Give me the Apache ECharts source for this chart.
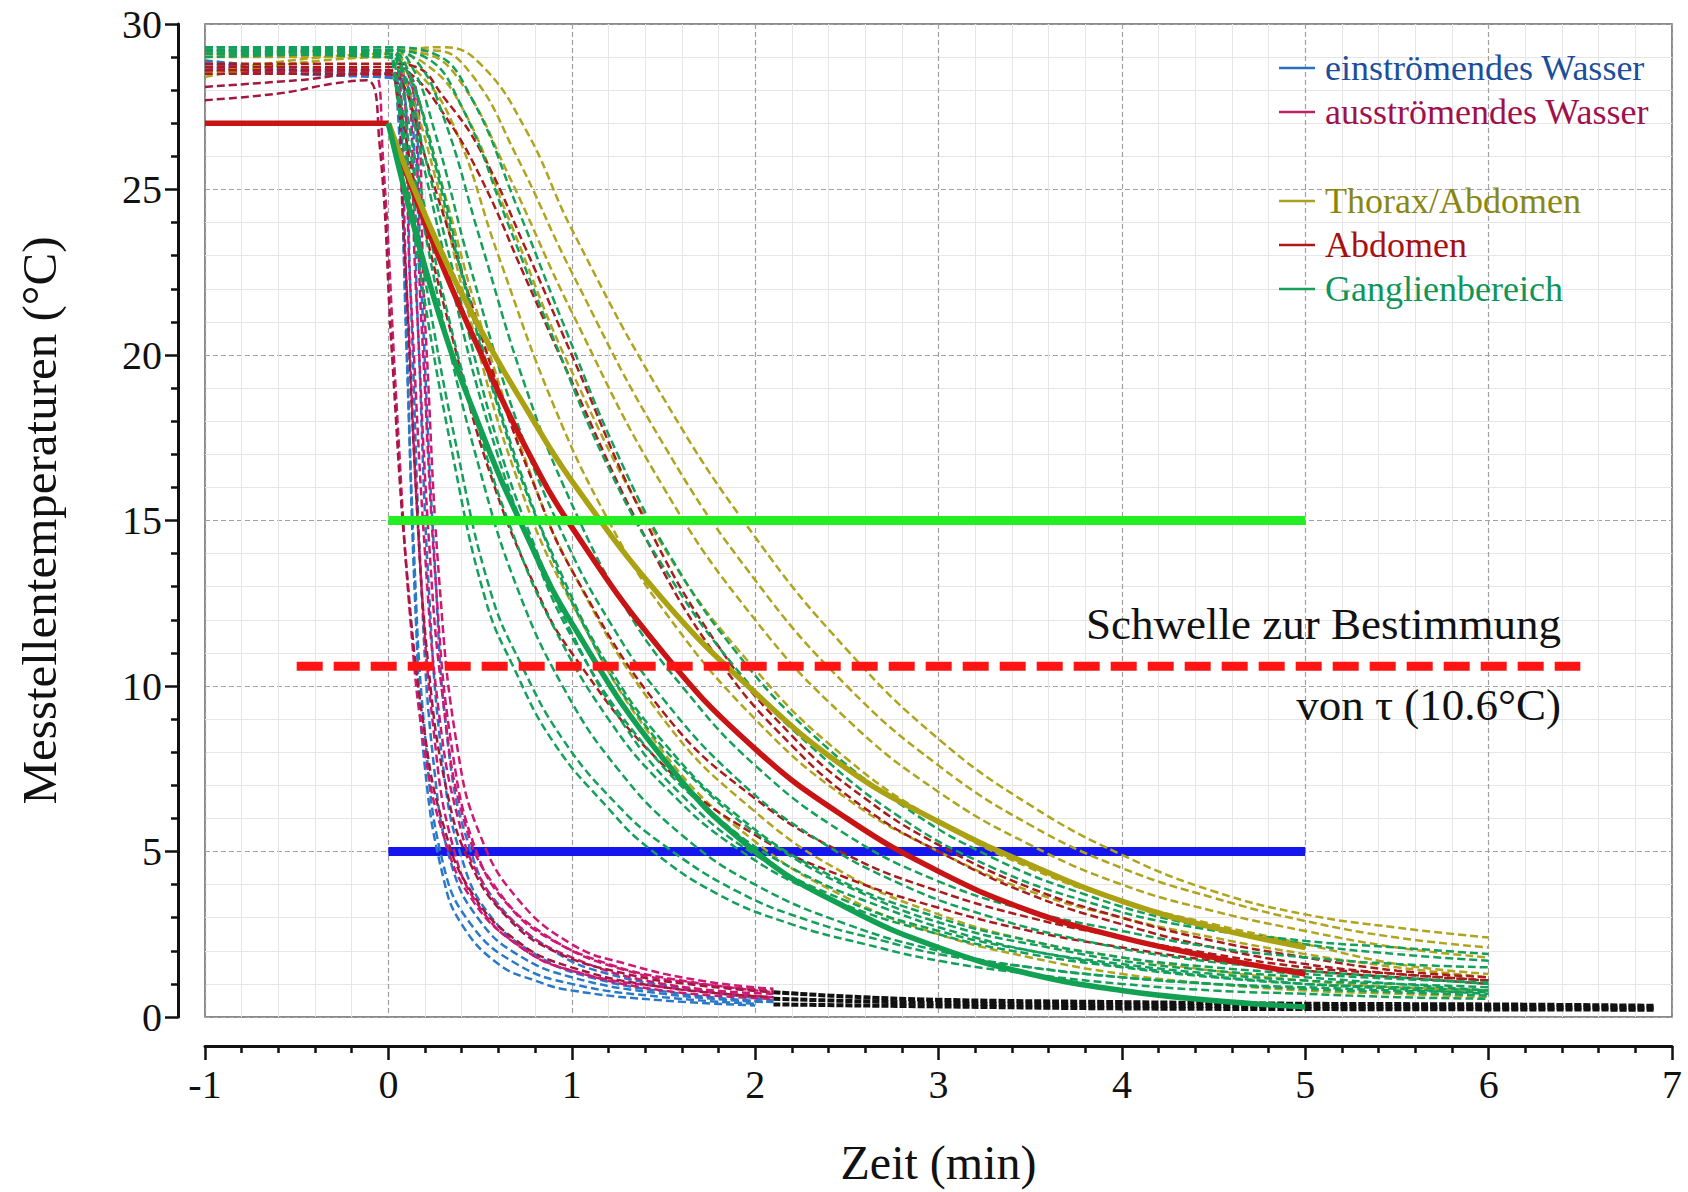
<!DOCTYPE html>
<html>
<head>
<meta charset="utf-8">
<script src="https://cdn.jsdelivr.net/npm/echarts@6/dist/echarts.min.js"></script>
<style>html,body{margin:0;padding:0;background:#fff}#c{width:1688px;height:1192px}</style>
</head>
<body>
<div id="c"></div>
<script>
// ---------- data (time in min, temperature in °C) ----------
const xTicks = [-1, 0, 1, 2, 3, 4, 5, 6, 7];
const yTicks = [0, 5, 10, 15, 20, 25, 30];

const inflow = [ // einströmendes Wasser
  [[-1,28.9],[-0.6,28.7],[0,28.5],[0.05,27.5],[0.1,20],[0.15,12],[0.2,7.5],[0.3,4.2],[0.4,2.8],[0.6,1.6],[0.8,1.1],[1.0,0.8],[1.5,0.5],[2.0,0.35]],
  [[-1,28.8],[-0.5,28.6],[0.07,28.3],[0.12,22],[0.18,13],[0.25,7.5],[0.35,4.5],[0.5,2.9],[0.7,1.9],[1.0,1.2],[1.5,0.7],[2.05,0.45]],
  [[-1,28.7],[-0.5,28.5],[0.1,28.2],[0.16,21],[0.22,13],[0.3,7.5],[0.4,4.8],[0.55,3.1],[0.8,1.9],[1.1,1.2],[1.6,0.7],[2.1,0.45]],
  [[-1,28.8],[-0.5,28.6],[0.04,28.4],[0.09,22],[0.14,14],[0.2,8.5],[0.3,4.6],[0.45,2.8],[0.7,1.6],[1.0,1.0],[1.5,0.6],[2.0,0.4]],
  [[-1,28.7],[-0.5,28.5],[0.12,28.2],[0.18,22],[0.25,14],[0.33,8],[0.45,5],[0.6,3.4],[0.9,2.0],[1.2,1.3],[1.7,0.8],[2.1,0.5]]
];
const outflow = [ // ausströmendes Wasser
  [[-1,28.8],[-0.5,28.7],[-0.08,28.6],[-0.03,26],[0.05,18],[0.12,12],[0.2,8],[0.3,5.5],[0.45,3.6],[0.7,2.2],[1.0,1.4],[1.5,0.9],[2.1,0.6]],
  [[-1,28.7],[-0.5,28.6],[0.05,28.6],[0.12,22],[0.2,14],[0.28,9],[0.38,6],[0.5,4.2],[0.7,2.8],[1.0,1.8],[1.5,1.0],[2.1,0.7]],
  [[-1,28.6],[-0.5,28.6],[0.08,28.5],[0.15,22],[0.22,14.5],[0.3,9.5],[0.42,5.8],[0.6,3.8],[0.85,2.5],[1.2,1.6],[1.6,1.1],[2.1,0.75]],
  [[-1,28.7],[-0.5,28.6],[0.1,28.5],[0.18,21],[0.26,13],[0.35,8],[0.48,5],[0.65,3.4],[0.9,2.3],[1.3,1.4],[1.7,1.0],[2.1,0.8]],
  [[-1,28.6],[-0.5,28.6],[0.03,28.6],[0.1,22],[0.17,14],[0.25,8.5],[0.35,5.2],[0.5,3.3],[0.75,2.0],[1.0,1.4],[1.5,0.8],[2.1,0.55]],
  [[-1,28.6],[-0.5,28.5],[0.12,28.4],[0.2,21],[0.28,13],[0.38,8],[0.5,5.5],[0.7,3.6],[1.0,2.2],[1.3,1.6],[1.7,1.1],[2.1,0.85]]
];
const outflowLow = [ // lower starting outflow probes
  [[-1,27.7],[-0.6,27.9],[-0.3,28.2],[-0.12,28.3],[-0.05,26.5],[0.02,20],[0.1,13.5],[0.2,8.5],[0.3,5.8],[0.45,3.8],[0.7,2.3],[1.0,1.5],[1.5,0.9],[2.1,0.6]],
  [[-1,28.1],[-0.5,28.3],[-0.1,28.5],[0.02,28.5],[0.08,24],[0.15,16],[0.22,10.5],[0.32,6.8],[0.45,4.6],[0.65,3.0],[0.9,2.0],[1.3,1.3],[1.7,0.95],[2.1,0.75]]
];
const baseline = [ // black continuation
  [[2.1,0.75],[2.5,0.62],[3,0.52],[4,0.45],[5,0.4],[6,0.38],[6.9,0.34]],
  [[2.1,0.55],[3,0.42],[4,0.35],[5,0.32],[6,0.3],[6.9,0.28]],
  [[2.1,0.38],[3,0.32],[4,0.26],[5,0.24],[6,0.23],[6.9,0.22]]
];
const thorax = [ // Thorax/Abdomen
  [[-1,29.1],[0,29.2],[0.3,29.3],[0.5,28.8],[0.75,26.8],[1,23.8],[1.5,18.7],[2,14.5],[2.5,11.1],[3,8.4],[3.5,6.4],[4,4.9],[4.5,3.8],[5,3.1],[5.5,2.7],[6,2.4]],
  [[-1,29.2],[0,29.2],[0.25,29.2],[0.45,28.5],[0.7,26],[1,22.5],[1.5,17.3],[2,13.2],[2.5,10.0],[3,7.6],[3.5,5.8],[4,4.5],[4.5,3.6],[5,2.9],[5.5,2.4],[6,2.1]],
  [[-1,29.0],[0,29.2],[0.2,29.1],[0.4,28.2],[0.65,25.5],[1,21.3],[1.5,16],[2,12],[2.5,9.0],[3,6.8],[3.5,5.2],[4,4.0],[4.5,3.2],[5,2.6],[5.5,2.1],[6,1.8]],
  [[-1,28.5],[0,29.1],[0.2,28.8],[0.4,27.5],[0.65,24.2],[1,19.5],[1.5,14.2],[2,10.5],[2.5,7.8],[3,5.9],[3.5,4.5],[4,3.5],[4.5,2.8],[5,2.2],[5.5,1.6],[6,1.3]],
  [[-1,28.4],[0,29.0],[0.15,28.6],[0.35,27],[0.6,23],[0.9,18.5],[1.2,15],[1.5,12.3],[2,9.0],[2.5,6.6],[3,5.0],[3.5,3.8],[4,3.0],[4.5,2.4],[5,1.9],[5.5,1.5],[6,1.2]],
  [[-1,29.0],[0,29.0],[0.12,28.3],[0.3,25],[0.5,21],[0.75,16.8],[1,13.5],[1.5,9.0],[2,6.2],[2.5,4.3],[3,3.1],[3.5,2.3],[4,1.8],[4.5,1.4],[5,1.1],[5.5,0.9],[6,0.8]],
  [[-1,29.1],[0,29.1],[0.1,28.2],[0.25,25.5],[0.45,21],[0.7,16.3],[1,12.5],[1.5,8.0],[2,5.3],[2.5,3.6],[3,2.5],[3.5,1.8],[4,1.3],[4.5,1.0],[5,0.8],[5.5,0.7],[6,0.6]]
];
const abdomen = [ // Abdomen
  [[-1,28.8],[0,28.8],[0.15,28.7],[0.3,27.8],[0.5,26.2],[0.75,23.2],[1,20],[1.4,15],[1.8,11.2],[2.2,8.5],[2.6,6.6],[3,5.2],[3.5,3.9],[4,3.0],[4.5,2.3],[5,1.8],[5.5,1.4],[6,1.2]],
  [[-1,28.7],[0,28.7],[0.12,28.5],[0.3,27.3],[0.5,25.4],[0.75,22.3],[1,19.2],[1.4,14.5],[1.8,10.8],[2.2,8.2],[2.6,6.3],[3,5.0],[3.5,3.7],[4,2.8],[4.5,2.1],[5,1.6],[5.5,1.3],[6,1.1]],
  [[-1,28.6],[0,28.6],[0.08,28.2],[0.2,26],[0.4,22.5],[0.6,19],[0.8,16],[1,13.5],[1.5,9.2],[2,6.6],[2.5,4.9],[3,3.8],[3.5,3.0],[4,2.4],[4.5,1.9],[5,1.5],[5.5,1.3],[6,1.1]],
  [[-1,28.5],[0,28.5],[0.05,27.8],[0.15,25],[0.35,20.5],[0.55,16.5],[0.8,13],[1,11],[1.5,7.6],[2,5.5],[2.5,4.2],[3,3.3],[3.5,2.6],[4,2.1],[4.5,1.7],[5,1.4],[5.5,1.2],[6,1.0]]
];
const ganglia = [ // Ganglienbereich
  [[-1,29.2],[0,29.1],[0.03,28.5],[0.1,25.5],[0.17,22.6],[0.35,17],[0.53,12.6],[0.68,10.6],[0.9,8.3],[1.2,6.3],[1.42,5.1],[1.8,3.7],[2.2,2.8],[2.6,2.2],[3,1.7],[3.5,1.3],[4,1.0],[4.5,0.8],[5,0.7],[5.5,0.6],[6,0.55]],
  [[-1,29.3],[0,29.1],[0.04,28.3],[0.12,25.3],[0.2,22.3],[0.38,17],[0.56,12.8],[0.72,10.7],[0.95,8.4],[1.25,6.4],[1.5,5.2],[1.9,3.8],[2.3,2.9],[2.7,2.3],[3,1.9],[3.5,1.5],[4,1.2],[4.5,1.0],[5,0.9],[5.5,0.8],[6,0.75]],
  [[-1,29.2],[0,29.2],[0.08,28.6],[0.2,26],[0.4,21.5],[0.6,17.3],[0.8,14.2],[1,11.6],[1.3,8.7],[1.6,6.7],[2,4.9],[2.5,3.5],[3,2.6],[3.5,2.0],[4,1.6],[4.5,1.3],[5,1.1],[5.5,1.0],[6,0.9]],
  [[-1,29.1],[0,29.2],[0.1,28.7],[0.22,26.5],[0.42,22],[0.65,17.5],[0.85,14.5],[1.05,12],[1.35,9.2],[1.7,7],[2.1,5.2],[2.6,3.7],[3.1,2.7],[3.6,2.1],[4,1.7],[4.5,1.4],[5,1.2],[5.5,1.0],[6,0.8]],
  [[-1,29.3],[0,29.3],[0.12,28.8],[0.25,26.8],[0.45,22.6],[0.7,18],[0.95,14.6],[1.2,12],[1.5,9.6],[1.9,7.2],[2.3,5.5],[2.8,4.0],[3.3,3.0],[3.8,2.3],[4.3,1.8],[5,1.4],[5.5,1.2],[6,1.0]],
  [[-1,29.2],[0,29.2],[0.15,28.9],[0.3,27.2],[0.5,23.5],[0.75,19],[1.0,15.5],[1.3,12.3],[1.6,10],[2,7.6],[2.5,5.5],[3,4.1],[3.5,3.2],[4,2.6],[4.5,2.1],[5,1.8],[5.5,1.6],[6,1.5]],
  [[-1,29.2],[0,29.2],[0.2,29],[0.4,27.5],[0.65,24],[0.9,20.5],[1.2,16.6],[1.5,13.6],[1.9,10.5],[2.3,8.2],[2.8,6.0],[3.3,4.5],[3.8,3.5],[4.3,2.8],[5,2.3],[5.5,2.1],[6,1.9]],
  [[-1,29.0],[0,29.1],[0.06,28.4],[0.15,25.8],[0.3,21.8],[0.5,17.6],[0.7,14.3],[0.9,11.8],[1.2,9.0],[1.5,7.0],[1.9,5.1],[2.4,3.6],[3,2.5],[3.5,1.9],[4,1.5],[4.5,1.2],[5,1.0],[5.5,0.9],[6,0.8]],
  [[-1,29.3],[0,29.2],[0.07,28.6],[0.18,26],[0.35,22],[0.55,17.8],[0.8,13.9],[1.05,11],[1.4,8.2],[1.8,6.0],[2.2,4.5],[2.7,3.3],[3.2,2.4],[3.7,1.8],[4.2,1.4],[5,1.0],[5.5,0.85],[6,0.7]],
  [[-1,29.1],[0,29.0],[0.1,28.6],[0.25,26],[0.45,21.5],[0.7,16.8],[0.95,13.3],[1.2,10.6],[1.5,8.3],[1.9,6.1],[2.4,4.3],[3,3.0],[3.5,2.3],[4,1.8],[4.5,1.5],[5,1.3],[5.5,1.15],[6,1.05]],
  [[-1,29.3],[0,29.3],[0.25,29.1],[0.45,27.8],[0.7,24.5],[0.95,21],[1.25,17],[1.55,13.8],[1.9,11],[2.3,8.6],[2.8,6.4],[3.3,4.8],[3.8,3.7],[4.3,2.9],[5,2.2],[5.5,1.9],[6,1.7]],
  [[-1,29.2],[0,29.0],[0.05,28.2],[0.15,25.2],[0.3,21],[0.5,16.5],[0.7,13],[0.95,10],[1.25,7.5],[1.6,5.5],[2,4.0],[2.5,2.8],[3,2.0],[3.5,1.5],[4,1.2],[4.5,1.0],[5,0.85],[5.5,0.75],[6,0.65]]
];
const meanAbdomenStart = [[-1,27],[0,27]];
const meanAbdomen = [[0,27],[0.25,23.3],[0.5,20.1],[0.75,17.2],[1,14.8],[1.5,11.0],[2,8.1],[2.5,6.0],[3,4.4],[3.5,3.2],[4,2.4],[4.5,1.8],[5,1.3]];
const meanThorax = [[0,27],[0.25,23.6],[0.5,20.8],[0.75,18.4],[1,16.2],[1.5,12.6],[2,9.8],[2.5,7.5],[3,5.9],[3.5,4.6],[4,3.5],[4.5,2.7],[5,2.1]];
const meanGanglia = [[0,27],[0.25,21.7],[0.5,17.8],[0.75,14.6],[1,11.9],[1.5,7.8],[2,5.0],[2.5,3.3],[3,2.1],[3.5,1.3],[4,0.8],[4.5,0.5],[5,0.3]];
const level15 = [[0,15],[5,15]];
const level5 = [[0,5],[5,5]];
const threshold = [[-0.5,10.6],[6.5,10.6]];

const legendWater = ['einströmendes Wasser', 'ausströmendes Wasser'];
const legendTissue = ['Thorax/Abdomen', 'Abdomen', 'Ganglienbereich'];

// ---------- chart ----------
const FONT = '"Liberation Serif", "Times New Roman", serif';
const C = {
  inflow: '#2a78c8', outflow: '#cc1a74', outLow: '#a3183e', thorax: '#b0a41e',
  abdomen: '#a81c1c', ganglia: '#14a05a'
};
const SMOOTH = 0.45;
function dashed(name, color, data, w, dash) {
  return { type: 'line', name, data, symbol: 'none', smooth: SMOOTH,
    silent: true, z: 2, itemStyle: { color }, lineStyle: { color, width: w || 2.5, type: dash || [8, 4] } };
}
function solid(name, color, data, w, z, sm) {
  return { type: 'line', name, data, symbol: 'none', smooth: sm === undefined ? SMOOTH : sm,
    silent: true, z: z || 4, itemStyle: { color }, lineStyle: { color, width: w } };
}
const series = [];
inflow.forEach(d => series.push(dashed('einströmendes Wasser', C.inflow, d)));
outflow.forEach(d => series.push(dashed('ausströmendes Wasser', C.outflow, d)));
outflowLow.forEach(d => series.push(dashed('ausströmendes Wasser', C.outLow, d)));
baseline.forEach(d => series.push(dashed('Basis', '#111111', d, 4, [7, 2])));
series.push(solid('Niveau 5', '#1515ee', level5, 9, 1, false));
thorax.forEach(d => series.push(dashed('Thorax/Abdomen', C.thorax, d)));
abdomen.forEach(d => series.push(dashed('Abdomen', C.abdomen, d)));
ganglia.forEach(d => series.push(dashed('Ganglienbereich', C.ganglia, d)));
series.push(solid('Abdomen', '#c81414', meanAbdomenStart, 5.5, 4, false));
series.push(solid('Abdomen', '#c81414', meanAbdomen, 5.5));
series.push(solid('Thorax/Abdomen', '#aaa212', meanThorax, 5.5));
series.push(solid('Ganglienbereich', '#12a052', meanGanglia, 5.5));
series.push(solid('Niveau 15', '#22ee22', level15, 9, 5, false));
series.push({ type: 'line', name: 'Schwelle', data: threshold, symbol: 'none', silent: true, z: 6,
  lineStyle: { color: '#ff1414', width: 9, type: [26, 11] } });

const legCol = {
  'einströmendes Wasser': ['#2a70c0', '#1c4e9c'],
  'ausströmendes Wasser': ['#c0206a', '#a0104c'],
  'Thorax/Abdomen': ['#a8a020', '#8a8612'],
  'Abdomen': ['#b01818', '#a81010'],
  'Ganglienbereich': ['#14a05a', '#10945a']
};
function legend(names, top) {
  return {
    orient: 'vertical', left: 1274, top, itemGap: 0, itemWidth: 36, itemHeight: 2.5,
    icon: 'rect', selectedMode: false,
    data: names.map(n => ({ name: n, itemStyle: { color: legCol[n][0], borderWidth: 0 },
      textStyle: { color: legCol[n][1] } })),
    textStyle: { fontFamily: FONT, fontSize: 36, lineHeight: 44, padding: [0, 0, 0, 5] }
  };
}

const chart = echarts.init(document.getElementById('c'), null, { renderer: 'svg' });
chart.setOption({
  animation: false,
  backgroundColor: '#ffffff',
  grid: { left: 205, right: 16, top: 24, bottom: 175, show: true, borderColor: '#666', borderWidth: 1.5 },
  legend: [legend(legendWater, 41), legend(legendTissue, 174)],
  xAxis: {
    type: 'value', min: xTicks[0], max: xTicks[xTicks.length - 1], interval: 1, offset: 29,
    name: 'Zeit (min)', nameLocation: 'middle', nameGap: 92,
    nameTextStyle: { fontFamily: FONT, fontSize: 48, color: '#111' },
    axisLine: { show: true, onZero: false, lineStyle: { color: '#111', width: 3 } },
    axisTick: { show: true, length: 14, lineStyle: { color: '#111', width: 2.5 } },
    minorTick: { show: true, splitNumber: 5, length: 7, lineStyle: { color: '#111', width: 2.5 } },
    axisLabel: { fontFamily: FONT, fontSize: 40, color: '#111', margin: 18 },
    splitLine: { show: true, lineStyle: { color: '#a0a0a0', width: 1.2, type: [5, 3] } },
    minorSplitLine: { show: true, lineStyle: { color: '#e6e6e6', width: 1 } }
  },
  yAxis: {
    type: 'value', min: yTicks[0], max: yTicks[yTicks.length - 1], interval: 5, offset: 27,
    name: 'Messtellentemperaturen (°C)', nameLocation: 'middle', nameGap: 114,
    nameTextStyle: { fontFamily: FONT, fontSize: 49, color: '#111' },
    axisLine: { show: true, onZero: false, lineStyle: { color: '#111', width: 3 } },
    axisTick: { show: true, length: 13, lineStyle: { color: '#111', width: 2.5 } },
    minorTick: { show: true, splitNumber: 5, length: 7, lineStyle: { color: '#111', width: 2.5 } },
    axisLabel: { fontFamily: FONT, fontSize: 40, color: '#111', margin: 16 },
    splitLine: { show: true, lineStyle: { color: '#a0a0a0', width: 1.2, type: [5, 3] } },
    minorSplitLine: { show: true, lineStyle: { color: '#e6e6e6', width: 1 } }
  },
  graphic: [
    { type: 'text', x: 1561, y: 624, z: 10, style: { text: 'Schwelle zur Bestimmung', fontFamily: FONT, fontSize: 45,
      fill: '#111', align: 'right', verticalAlign: 'middle' } },
    { type: 'text', x: 1561, y: 705, z: 10, style: { text: 'von τ (10.6°C)', fontFamily: FONT, fontSize: 45,
      fill: '#111', align: 'right', verticalAlign: 'middle' } }
  ],
  series
});
</script>
</body>
</html>
